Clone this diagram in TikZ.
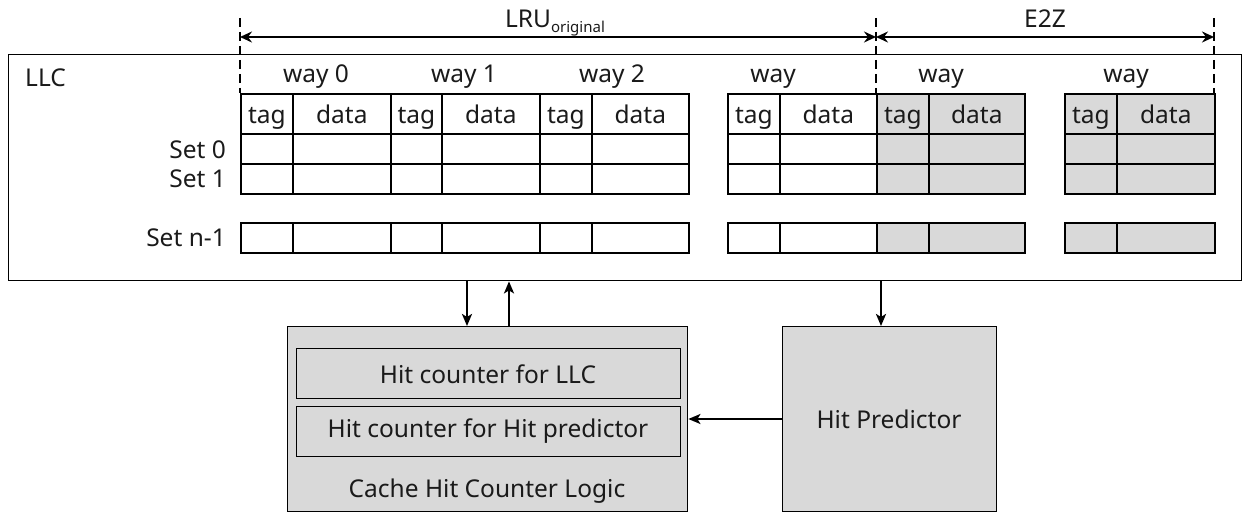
\documentclass[tikz,border=0pt]{standalone}
\usepackage{fontspec}
\setmainfont{Noto Sans}
\usetikzlibrary{arrows.meta}
\definecolor{shade}{HTML}{D9D9D9}
\definecolor{ink}{HTML}{1A1A1A}
\begin{document}
\begin{tikzpicture}[x=1pt,y=-1pt,
  txt/.style={font=\fontsize{24.5}{26}\selectfont, inner sep=0pt, text=ink},
  cell/.style={draw, line width=1.7pt, inner sep=0pt, anchor=north west, font=\fontsize{24.5}{26}\selectfont, text=ink, text height=25pt, text depth=5pt},
  box/.style={draw, line width=1.4pt, fill=shade, inner sep=0pt, anchor=north west},
  dashline/.style={line width=2.8pt, dash pattern=on 9pt off 5pt},
  dimarr/.style={line width=2.4pt, {Stealth[length=12pt,width=11pt,inset=4pt]}-{Stealth[length=12pt,width=11pt,inset=4pt]}},
  arr/.style={line width=2.4pt, -{Stealth[length=12pt,width=10pt,inset=3pt]}}]
\useasboundingbox (0,0) rectangle (1243,513);
% LLC box
\node[draw, line width=1.4pt, inner sep=0pt, anchor=north west, minimum width=1233pt, minimum height=226pt] (llc) at (8,54) {};
\node[txt, anchor=base west] (llclab) at (25,87) {LLC};
% way labels
\node[txt, anchor=base] (w0) at (316,83) {way 0};
\node[txt, anchor=base] (w1) at (464,83) {way 1};
\node[txt, anchor=base] (w2) at (612,83) {way 2};
\node[txt, anchor=base] (w3) at (773,83) {way};
\node[txt, anchor=base] (w4) at (941,83) {way};
\node[txt, anchor=base] (w5) at (1126,83) {way};
% set labels
\node[txt, anchor=base east] (s0) at (226,159) {Set 0};
\node[txt, anchor=base east] (s1) at (226,188) {Set 1};
\node[txt, anchor=base east] (sn) at (226,247) {Set n-1};
% cells
\foreach \k/\xa/\xb/\xc/\fc in {0/240/292/390/white, 1/390/441/539/white, 2/539/591/688/white, 3/727/779/876/white, 4/876/928/1024/shade, 5/1064/1116/1214/shade}{
  \foreach \r/\ya/\hh/\ttag/\tdat in {h/93/40/tag/data, a/133/30//, b/163/29//, n/222/30//}{
    \pgfmathsetmacro\cwA{\xb-\xa}
    \pgfmathsetmacro\cwB{\xc-\xb}
    \node[cell, fill=\fc, minimum width=\cwA pt, minimum height=\hh pt] (t\k\r) at (\xa,\ya) {\ttag};
    \node[cell, fill=\fc, minimum width=\cwB pt, minimum height=\hh pt] (d\k\r) at (\xb,\ya) {\tdat};
  }
}
% dashed boundaries
\coordinate (da) at (240,18); \coordinate (db) at (240,93);
\coordinate (ea) at (876,18); \coordinate (eb) at (876,93);
\coordinate (fa) at (1214,18); \coordinate (fb) at (1214,93);
\draw[dashline] (da) -- (db);
\draw[dashline] (ea) -- (eb);
\draw[dashline] (fa) -- (fb);
\coordinate (ga) at (240,37); \coordinate (gb) at (876,37); \coordinate (gc) at (1214,37);
\draw[dimarr] (ga) -- (gb);
\draw[dimarr] (gb) -- (gc);
\node[txt, anchor=base] (lru) at (555,28) {LRU{\fontsize{15}{15}\selectfont\raisebox{-5pt}{original}}};
\node[txt, anchor=base] (e2z) at (1045,28) {E2Z};
% bottom boxes
\node[box, minimum width=400pt, minimum height=185pt] (chl) at (287,326) {};
\node[box, minimum width=384pt, minimum height=50pt] (hc1) at (296,348) {};
\node[txt, anchor=base] (hc1lab) at (488,383) {Hit counter for LLC};
\node[box, minimum width=384pt, minimum height=50pt] (hc2) at (296,406) {};
\node[txt, anchor=base] (hc2lab) at (488,437) {Hit counter for Hit predictor};
\node[txt, anchor=base] (chllab) at (487,497) {Cache Hit Counter Logic};
\node[box, minimum width=214pt, minimum height=185pt] (hp) at (782,326) {};
\node[txt, anchor=base] (hplab) at (889,428) {Hit Predictor};
% arrows
\coordinate (x1) at (467,0);
\coordinate (x2) at (509,0);
\coordinate (x3) at (881,0);
\coordinate (y1) at (0,419);
\draw[arr] (x1 |- llc.south) -- (x1 |- chl.north);
\draw[arr] (x2 |- chl.north) -- (x2 |- llc.south);
\draw[arr] (x3 |- llc.south) -- (x3 |- hp.north);
\draw[arr] (hp.west |- y1) -- (chl.east |- y1);
\end{tikzpicture}
\end{document}
